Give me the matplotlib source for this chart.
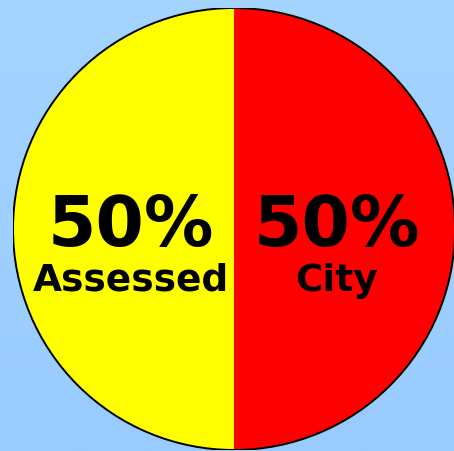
import matplotlib.pyplot as plt
import numpy as np
from matplotlib.patches import Circle

# data
labels = ["Assessed", "City"]
shares = [50, 50]
colors = ["#FFFF00", "#FF0000"]

fig = plt.figure(figsize=(4.54, 4.52), dpi=100)

# light blue gradient background
bg = fig.add_axes([0, 0, 1, 1])
grad = np.linspace(0, 1, 256).reshape(-1, 1)
top = np.array([164, 212, 255]) / 255
bottom = np.array([152, 203, 255]) / 255
img = top + (bottom - top) * grad[:, :, None]
bg.imshow(img, aspect="auto", extent=[0, 1, 0, 1])
bg.axis("off")

ax = fig.add_axes([13 / 454, 1 / 452, 442 / 454, 442 / 452])
wedges, _ = ax.pie(shares, colors=colors, startangle=90, counterclock=True,
                   radius=1, wedgeprops=dict(linewidth=0))
ax.add_patch(Circle((0, 0), 1, fill=False, edgecolor="black", linewidth=1.4))
ax.set_xlim(-1, 1)
ax.set_ylim(-1, 1)
ax.set_aspect("equal")
ax.axis("off")

# labels inside each wedge
for w, lab, val in zip(wedges, labels, shares):
    ang = np.deg2rad((w.theta1 + w.theta2) / 2)
    x = 0.465 * np.cos(ang)
    ax.text(x, 0.015, f"{val}%", ha="center", va="center",
            fontsize=50, fontweight="bold", family="DejaVu Sans")
    ax.text(x, -0.23, lab, ha="center", va="center",
            fontsize=27, fontweight="bold", family="DejaVu Sans")

fig.savefig("out.png", dpi=100)
